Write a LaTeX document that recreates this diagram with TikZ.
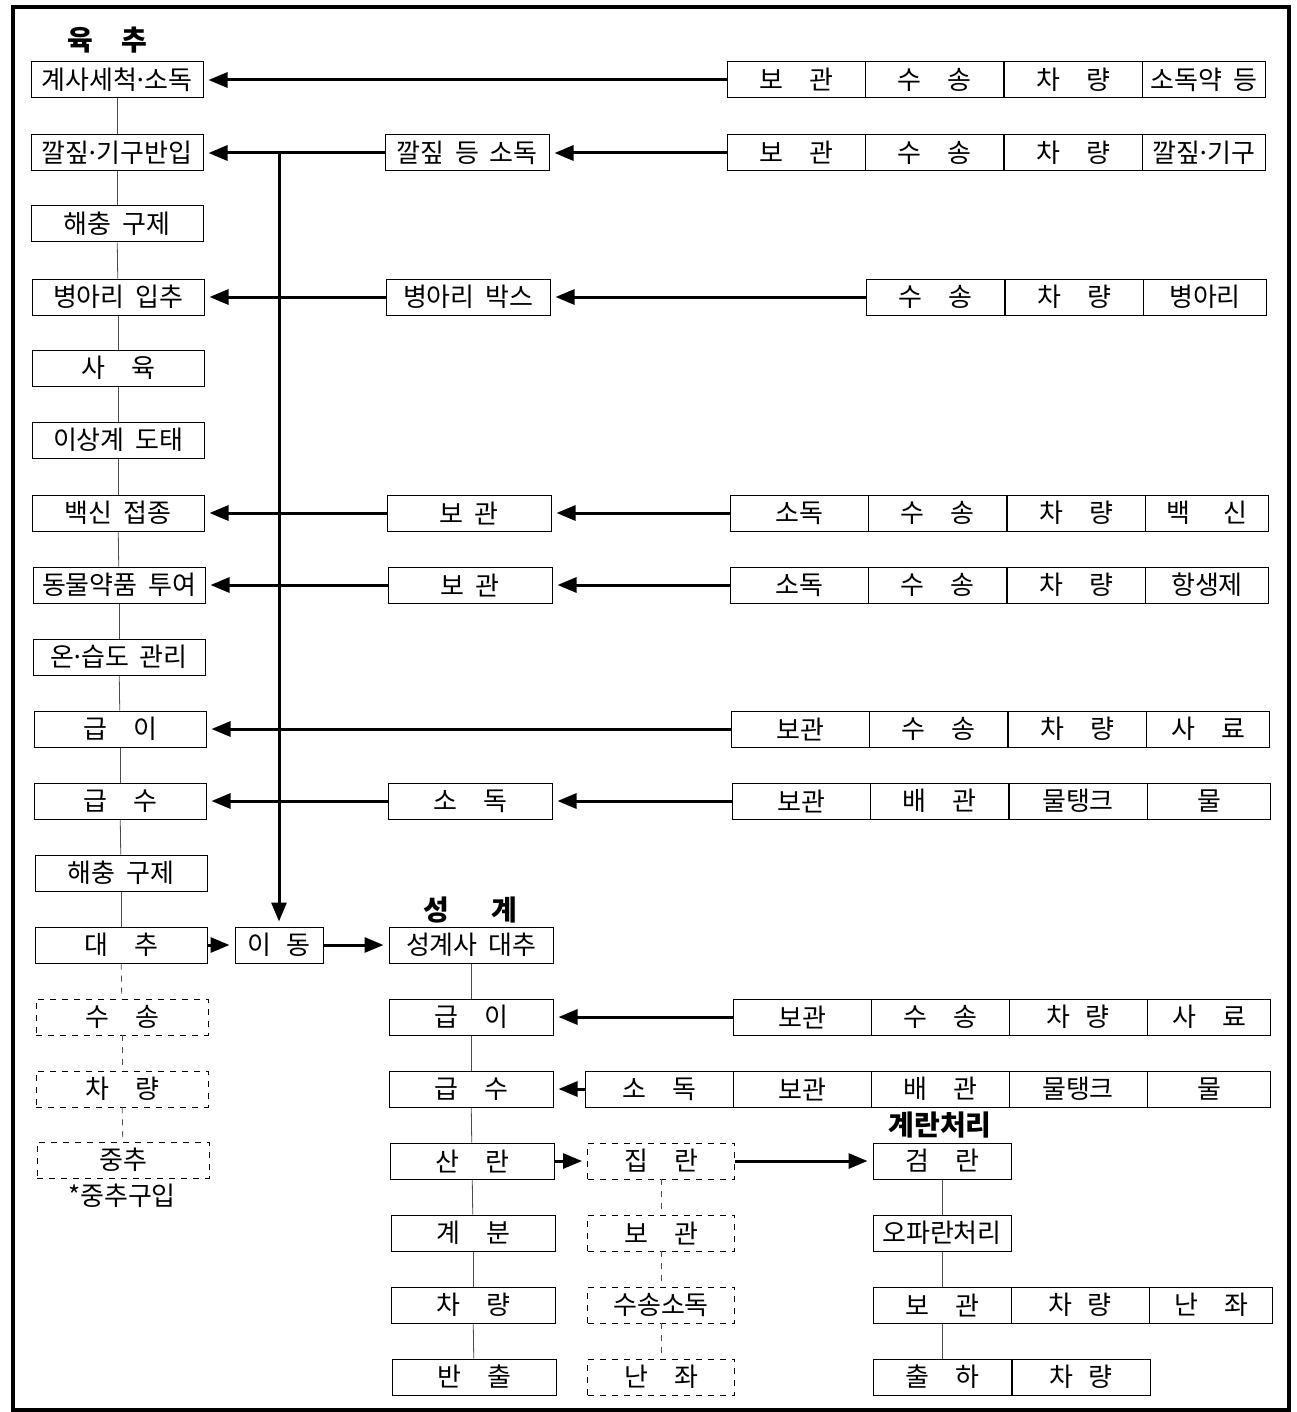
\documentclass[tikz,border=0pt]{standalone}
\usepackage{fontspec}
\setmainfont{Noto Sans CJK KR}
\usetikzlibrary{arrows.meta}
\newcommand\mdot{\hspace{-0.15em}·\hspace{-0.15em}}
\newcommand\boxfont{\fontsize{13}{15}\selectfont\spaceskip 0.4em plus 0.1em\relax}

\begin{document}
\begin{tikzpicture}[x=0.5pt,y=-0.5pt,
  box/.style={draw,line width=0.5pt,minimum height=18pt,inner sep=0pt,
    font=\boxfont},
  lbox/.style={box,minimum width=86pt},
  mbox/.style={box,minimum width=82pt},
  cell/.style={box,minimum width=69pt},
  ecell/.style={box,minimum width=61.5pt},
  dbox/.style={box,dashed,line width=0.45pt},
  title/.style={font=\fontsize{14}{16}\selectfont\bfseries,inner sep=0pt},
  flow/.style={line width=1.5pt,-{Triangle[length=9.5pt,width=7.5pt]},shorten >=2.5pt},
  link/.style={line width=0.4pt,black!70},
  dlink/.style={link,dashed}]
\useasboundingbox (0,0) rectangle (1296,1412);
\draw[line width=1.6pt] (13,7) rectangle (1289,1410);

% 육추
\node[title] (tyc) at (107,40) {육\quad 추};
\node[lbox] (l1) at (117,80) {계사세척\mdot 소독};
\node[lbox] (l2) at (117,153) {깔짚\mdot 기구반입};
\node[lbox] (l3) at (117,224) {해충 구제};
\node[lbox] (l4) at (118,297) {병아리 입추};
\node[lbox] (l5) at (118,368) {사\quad 육};
\node[lbox] (l6) at (118,440) {이상계 도태};
\node[lbox] (l7) at (118,513) {백신 접종};
\node[lbox] (l8) at (119,585) {동물약품 투여};
\node[lbox] (l9) at (119,657) {온\mdot 습도 관리};
\node[lbox] (l10) at (120,729) {급\quad 이};
\node[lbox] (l11) at (120,801) {급\quad 수};
\node[lbox] (l12) at (121,873) {해충 구제};
\node[lbox] (l13) at (121,945) {대\quad 추};
\node[lbox,dbox] (l14) at (122,1017) {수\quad 송};
\node[lbox,dbox] (l15) at (122,1089) {차\quad 량};
\node[lbox,dbox] (l16) at (123,1160) {중추};
\node[inner sep=0pt,font=\boxfont] (buy) at (122,1196) {*중추구입};
\foreach \a/\b in {l1/l2,l2/l3,l3/l4,l4/l5,l5/l6,l6/l7,l7/l8,l8/l9,l9/l10,l10/l11,l11/l12,l12/l13}
  \draw[link] (\a) -- (\b);
\foreach \a/\b in {l13/l14,l14/l15,l15/l16}
  \draw[dlink] (\a) -- (\b);

% middle column
\node[mbox] (m2) at (467,153) {깔짚 등 소독};
\node[mbox] (m4) at (468,297) {병아리 박스};
\node[mbox] (m7) at (469,513) {보 관};
\node[mbox] (m8) at (470,585) {보 관};
\node[mbox] (m11) at (470,801) {소\quad 독};
\node[box,minimum width=44pt] (idong) at (279,945) {이\hspace{0.6em}동};

% right blocks
\node[cell] (r1a) at (796,80) {보\quad 관};
\node[cell] (r1b) at (934,80) {수\quad 송};
\node[cell] (r1c) at (1073,80) {차\quad 량};
\node[ecell] (r1d) at (1204,80) {소독약 등};
\node[cell] (r2a) at (796,153) {보\quad 관};
\node[cell] (r2b) at (934,153) {수\quad 송};
\node[cell] (r2c) at (1073,153) {차\quad 량};
\node[ecell] (r2d) at (1204,153) {깔짚\mdot 기구};
\node[cell] (r4b) at (935,297) {수\quad 송};
\node[cell] (r4c) at (1074,297) {차\quad 량};
\node[ecell] (r4d) at (1205,297) {병아리};
\node[cell] (r7a) at (799,513) {소독};
\node[cell] (r7b) at (937,513) {수\quad 송};
\node[cell] (r7c) at (1076,513) {차\quad 량};
\node[ecell] (r7d) at (1207,513) {백\hspace{1.3em}신};
\node[cell] (r8a) at (799,585) {소독};
\node[cell] (r8b) at (937,585) {수\quad 송};
\node[cell] (r8c) at (1076,585) {차\quad 량};
\node[ecell] (r8d) at (1207,585) {항생제};
\node[cell] (r10a) at (800,729) {보관};
\node[cell] (r10b) at (938,729) {수\quad 송};
\node[cell] (r10c) at (1077,729) {차\quad 량};
\node[ecell] (r10d) at (1208,729) {사\quad 료};
\node[cell] (r11a) at (801,801) {보관};
\node[cell] (r11b) at (939,801) {배\quad 관};
\node[cell] (r11c) at (1078,801) {물탱크};
\node[ecell] (r11d) at (1209,801) {물};

% flows into 육추
\draw[flow] (r1a.west) -- (l1.east);
\draw[flow] (r2a.west) -- (m2.east);
\draw[flow] (m2.west) -- (l2.east);
\draw[flow] (r4b.west) -- (m4.east);
\draw[flow] (m4.west) -- (l4.east);
\draw[flow] (r7a.west) -- (m7.east);
\draw[flow] (m7.west) -- (l7.east);
\draw[flow] (r8a.west) -- (m8.east);
\draw[flow] (m8.west) -- (l8.east);
\draw[flow] (r10a.west) -- (l10.east);
\draw[flow] (r11a.west) -- (m11.east);
\draw[flow] (m11.west) -- (l11.east);
\draw[flow] (idong.north |- l2.east) -- (idong.north);
\draw[flow] (l13.east) -- (idong.west);

% 성계
\node[title] (tsg) at (470,910) {성\hspace{1.5em}계};
\node[mbox] (s1) at (471,945) {성계사 대추};
\node[mbox] (s2) at (471,1017) {급\quad 이};
\node[mbox] (s3) at (471,1089) {급\quad 수};
\node[mbox] (s4) at (472,1161) {산\quad 란};
\node[mbox] (s5) at (473,1233) {계\quad 분};
\node[mbox] (s6) at (473,1305) {차\quad 량};
\node[mbox] (s7) at (474,1377) {반\quad 출};
\foreach \a/\b in {s1/s2,s2/s3,s3/s4,s4/s5,s5/s6,s6/s7}
  \draw[link] (\a) -- (\b);
\draw[flow] (idong.east) -- (s1.west);

\node[cell] (sr2a) at (802,1017) {보관};
\node[cell] (sr2b) at (940,1017) {수\quad 송};
\node[cell] (sr2c) at (1078,1017) {차\hspace{0.6em}량};
\node[ecell] (sr2d) at (1209,1017) {사\quad 료};
\node[box,minimum width=74pt] (sr3a) at (659,1089) {소\quad 독};
\node[cell] (sr3b) at (802,1089) {보관};
\node[cell] (sr3c) at (940,1089) {배\quad 관};
\node[cell] (sr3d) at (1078,1089) {물탱크};
\node[ecell] (sr3e) at (1209,1089) {물};
\draw[flow] (sr2a.west) -- (s2.east);
\draw[flow] (sr3a.west) -- (s3.east);

% 집란
\node[box,dbox,minimum width=73.5pt] (d1) at (661,1161) {집\quad 란};
\node[box,dbox,minimum width=73.5pt] (d2) at (661,1233) {보\quad 관};
\node[box,dbox,minimum width=73.5pt] (d3) at (661,1305) {수송소독};
\node[box,dbox,minimum width=73.5pt] (d4) at (661,1377) {난\quad 좌};
\foreach \a/\b in {d1/d2,d2/d3,d3/d4}
  \draw[dlink] (\a) -- (\b);
\draw[flow] (s4.east) -- (d1.west);

% 계란처리
\node[title] (tgr) at (940,1125) {계란처리};
\node[cell] (e1) at (942,1161) {검\quad 란};
\node[cell] (e2) at (942,1233) {오파란처리};
\node[cell] (e3a) at (942,1305) {보\quad 관};
\node[cell] (e3b) at (1080,1305) {차\hspace{0.6em}량};
\node[ecell] (e3c) at (1211,1305) {난\quad 좌};
\node[cell] (e4a) at (942,1377) {출\quad 하};
\node[cell] (e4b) at (1081,1377) {차\hspace{0.6em}량};
\foreach \a/\b in {e1/e2,e2/e3a,e3a/e4a}
  \draw[link] (\a) -- (\b);
\draw[flow] (d1.east) -- (e1.west);
\end{tikzpicture}
\end{document}
